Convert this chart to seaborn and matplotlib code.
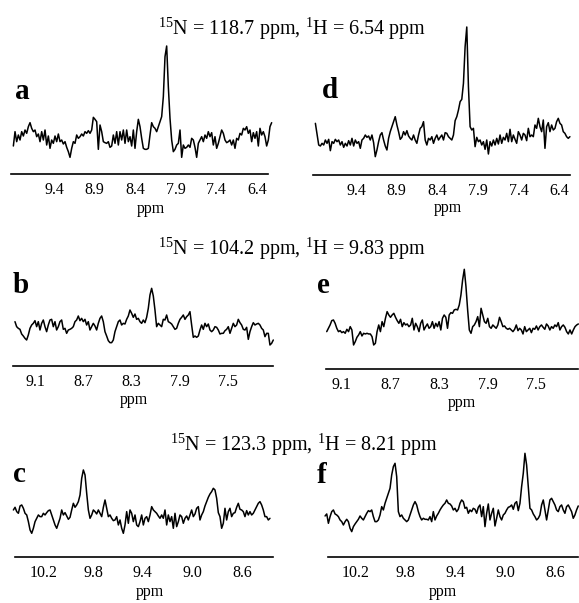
import numpy as np
import pandas as pd
import matplotlib
matplotlib.use("Agg")
import matplotlib.pyplot as plt
import seaborn as sns

sns.set_style("white")
plt.rcParams['font.family'] = ['Liberation Serif', 'DejaVu Serif']
plt.rcParams['mathtext.fontset'] = 'custom'
plt.rcParams['mathtext.rm'] = 'Liberation Serif'
plt.rcParams['mathtext.it'] = 'Liberation Serif:italic'
plt.rcParams['mathtext.bf'] = 'Liberation Serif:bold'
plt.rcParams['text.color'] = 'black'
plt.rcParams['axes.labelcolor'] = 'black'
plt.rcParams['xtick.color'] = 'black'

# ---------------- data (intensities, arbitrary units) ----------------
titles = [r"$^{15}$N = 118.7 ppm, $^{1}$H = 6.54 ppm",
          r"$^{15}$N = 104.2 ppm, $^{1}$H = 9.83 ppm",
          r"$^{15}$N = 123.3 ppm, $^{1}$H = 8.21 ppm"]
panel_letters = ["a", "d", "b", "e", "c", "f"]

ticks_ad = [9.4, 8.9, 8.4, 7.9, 7.4, 6.9]
ticklabels_ad = ["9.4", "8.9", "8.4", "7.9", "7.4", "6.4"]
ticks_be = [9.1, 8.7, 8.3, 7.9, 7.5]
ticklabels_be = ["9.1", "8.7", "8.3", "7.9", "7.5"]
ticks_cf = [10.2, 9.8, 9.4, 9.0, 8.6]
ticklabels_cf = ["10.2", "9.8", "9.4", "9.0", "8.6"]

# spectral window (first, last ppm) of each trace
ppm_a = (9.90, 6.72)
ppm_d = (9.90, 6.77)
ppm_b = (9.275, 7.117)
ppm_e = (9.223, 7.155)
ppm_c = (10.441, 8.377)
ppm_f = (10.449, 8.412)

int_a = [142, 185, 155, 175, 160, 185, 172, 190, 180, 200, 212, 195, 185, 190, 170, 178, 155, 185, 160, 190,
         145, 172, 135, 160, 150, 172, 155, 178, 155, 160, 148, 155, 138, 125, 108, 135, 155, 150, 175, 165,
         170, 178, 172, 185, 180, 188, 180, 190, 228, 222, 215, 132, 205, 185, 155, 152, 150, 155, 138, 142,
         175, 150, 185, 145, 185, 160, 190, 150, 190, 155, 170, 142, 190, 135, 185, 222, 200, 165, 135, 132,
         132, 135, 175, 212, 200, 195, 185, 200, 215, 230, 290, 410, 442, 320, 225, 160, 125, 132, 145, 150,
         190, 108, 145, 135, 138, 145, 138, 165, 160, 138, 108, 150, 160, 170, 155, 175, 165, 185, 170, 182,
         145, 170, 135, 150, 170, 190, 180, 160, 152, 155, 160, 145, 160, 135, 165, 160, 180, 175, 195, 190,
         200, 180, 190, 155, 182, 165, 185, 142, 195, 175, 185, 170, 142, 160, 200, 212]

int_d = [210, 178, 145, 142, 150, 145, 160, 150, 162, 128, 155, 150, 162, 155, 160, 145, 155, 138, 150, 142,
         158, 145, 165, 142, 160, 150, 155, 135, 160, 165, 175, 168, 172, 160, 175, 152, 110, 130, 155, 175,
         182, 160, 142, 130, 165, 185, 200, 215, 230, 205, 185, 162, 168, 185, 175, 188, 172, 165, 160, 175,
         160, 150, 175, 195, 200, 215, 160, 145, 165, 160, 170, 150, 165, 175, 160, 168, 175, 160, 182, 180,
         170, 165, 160, 175, 218, 230, 250, 275, 282, 330, 440, 499, 320, 200, 190, 195, 140, 168, 155, 160,
         145, 155, 132, 160, 118, 155, 142, 160, 145, 165, 148, 175, 150, 168, 160, 180, 155, 192, 155, 175,
         162, 150, 185, 175, 160, 180, 175, 158, 195, 170, 175, 170, 205, 195, 225, 200, 185, 220, 135, 200,
         212, 185, 205, 190, 195, 215, 225, 210, 205, 185, 180, 170, 165, 170]

int_b = [125, 110, 105, 102, 88, 82, 75, 70, 85, 105, 115, 120, 128, 110, 125, 100, 120, 130, 110, 95,
         115, 130, 132, 110, 125, 100, 110, 125, 130, 102, 105, 90, 100, 102, 105, 110, 125, 130, 142, 128,
         135, 125, 132, 115, 125, 100, 110, 120, 112, 100, 120, 135, 142, 125, 95, 82, 68, 62, 62, 70,
         95, 110, 125, 130, 115, 120, 118, 132, 142, 160, 150, 138, 148, 132, 135, 125, 120, 130, 122, 138,
         165, 205, 225, 202, 160, 110, 120, 115, 110, 132, 130, 145, 125, 122, 118, 110, 102, 105, 120, 132,
         138, 145, 132, 140, 145, 155, 115, 78, 82, 78, 82, 100, 115, 102, 120, 110, 118, 100, 95, 100,
         110, 108, 100, 88, 90, 90, 98, 102, 110, 90, 105, 120, 110, 115, 132, 122, 115, 102, 100, 108,
         72, 95, 110, 122, 115, 118, 120, 115, 105, 100, 80, 90, 90, 55, 60, 70]

int_e = [95, 105, 115, 128, 130, 120, 105, 95, 98, 92, 95, 90, 102, 95, 110, 100, 55, 65, 78, 85,
         95, 82, 90, 88, 90, 88, 88, 80, 55, 60, 95, 115, 95, 125, 110, 135, 155, 145, 138, 145,
         150, 138, 128, 120, 132, 110, 122, 115, 118, 110, 115, 135, 100, 120, 110, 95, 120, 130, 100, 110,
         118, 105, 110, 125, 105, 120, 110, 125, 100, 135, 145, 138, 105, 145, 152, 150, 160, 162, 160, 175,
         205, 250, 282, 230, 160, 100, 90, 110, 115, 125, 140, 110, 165, 145, 125, 120, 135, 110, 105, 115,
         110, 105, 115, 138, 125, 110, 112, 105, 102, 105, 100, 95, 102, 115, 98, 105, 100, 88, 110, 95,
         100, 105, 92, 105, 102, 112, 100, 110, 115, 108, 102, 118, 112, 100, 110, 105, 115, 110, 122, 100,
         110, 115, 108, 95, 88, 100, 88, 100, 110, 115, 118]

int_c = [130, 138, 125, 120, 142, 145, 135, 120, 115, 95, 70, 60, 75, 95, 105, 115, 110, 110, 120, 115,
         122, 128, 130, 115, 100, 85, 75, 90, 105, 130, 115, 122, 112, 102, 108, 130, 150, 138, 145, 155,
         175, 225, 250, 235, 180, 130, 105, 115, 130, 125, 118, 130, 120, 110, 138, 160, 135, 110, 115, 105,
         98, 100, 110, 85, 100, 75, 60, 85, 125, 90, 130, 120, 95, 115, 85, 80, 95, 115, 85, 105,
         110, 95, 115, 140, 130, 125, 120, 112, 105, 115, 105, 130, 85, 115, 95, 110, 75, 120, 80, 95,
         115, 110, 90, 105, 112, 100, 115, 130, 110, 118, 135, 140, 100, 115, 125, 142, 155, 168, 178, 185,
         195, 190, 165, 122, 110, 75, 90, 135, 100, 125, 135, 110, 120, 122, 138, 150, 132, 130, 125, 110,
         128, 115, 125, 115, 120, 130, 140, 150, 155, 145, 130, 110, 110, 100, 105]

int_f = [112, 118, 90, 110, 125, 130, 118, 115, 110, 100, 95, 85, 95, 102, 95, 75, 65, 80, 88, 95,
         102, 112, 105, 100, 110, 120, 128, 125, 130, 110, 95, 95, 100, 115, 140, 130, 150, 165, 180, 195,
         235, 260, 270, 230, 125, 110, 115, 105, 100, 95, 100, 115, 130, 145, 155, 145, 125, 110, 100, 105,
         102, 102, 100, 110, 95, 125, 100, 112, 120, 130, 138, 145, 150, 160, 150, 148, 142, 130, 135, 125,
         132, 150, 160, 155, 135, 138, 120, 130, 125, 135, 132, 120, 138, 145, 110, 140, 80, 120, 148, 100,
         120, 135, 82, 105, 130, 110, 100, 115, 120, 130, 138, 140, 145, 132, 150, 155, 128, 150, 200, 240,
         300, 265, 200, 135, 130, 118, 110, 100, 105, 115, 145, 160, 130, 100, 130, 160, 165, 155, 145, 130,
         125, 140, 145, 130, 120, 140, 145, 135, 125, 105, 115, 130, 142]

# ---------------- layout (figure pixels) ----------------
W, Hfig = 579, 603
# name: (x_left, x_right, y_axisline, height_px, xlim, ticks, ticklabels, data, ppm, intensity_baseline, ppm label center)
panels = {
    "a": (11, 268, 174, 136, (9.929, 6.765), ticks_ad, ticklabels_ad, int_a, ppm_a, 58, (151, 209)),
    "d": (312.7, 570, 175, 153, (9.933, 6.769), ticks_ad, ticklabels_ad, int_d, ppm_d, 55, (448, 208)),
    "b": (13.3, 272.7, 366, 88, (9.289, 7.122), ticks_be, ticklabels_be, int_b, ppm_b, -8, (134, 400)),
    "e": (326, 578, 369.3, 108, (9.229, 7.158), ticks_be, ticklabels_be, int_e, ppm_e, -18, (462, 403)),
    "c": (15, 272.7, 557.3, 100, (10.428, 8.355), ticks_cf, ticklabels_cf, int_c, ppm_c, -12, (150, 592)),
    "f": (328.3, 578, 557.3, 112, (10.423, 8.414), ticks_cf, ticklabels_cf, int_f, ppm_f, -12, (443, 592)),
}

letter_pos = {"a": (15, 99), "d": (322, 98), "b": (13, 293), "e": (317, 293), "c": (13, 482), "f": (317, 483)}
title_pos = [(292, 35), (292, 255), (304, 451)]

fig = plt.figure(figsize=(W / 100, Hfig / 100), dpi=100)
fig.patch.set_facecolor("white")

for name, (x0, x1, yb, h, xlim, ticks, tlabels, vals, ppm, base, lab) in panels.items():
    ax = fig.add_axes([x0 / W, 1 - yb / Hfig, (x1 - x0) / W, h / Hfig])
    df = pd.DataFrame({"ppm": np.linspace(ppm[0], ppm[1], len(vals)), "intensity": vals})
    sns.lineplot(data=df, x="ppm", y="intensity", ax=ax, color="black", linewidth=1.1,
                 estimator=None, errorbar=None, sort=False, clip_on=False)
    ax.set_xlim(*xlim)
    ax.set_ylim(base, base + 3 * h)
    for s in ["top", "left", "right"]:
        ax.spines[s].set_visible(False)
    ax.spines["bottom"].set_linewidth(1.2)
    ax.spines["bottom"].set_color("black")
    ax.set_yticks([])
    ax.set_ylabel("")
    ax.set_xticks(ticks)
    ax.set_xticklabels(tlabels, fontsize=11.5, color="black")
    ax.tick_params(axis="x", direction="out", length=4, width=1.1, pad=1.5, colors="black")
    ax.set_facecolor("none")
    ax.set_xlabel("ppm", fontsize=11.5, va="center", color="black")
    ax.xaxis.set_label_coords((lab[0] - x0) / (x1 - x0), -(lab[1] - yb) / h)
    lx, ly = letter_pos[name]
    fig.text(lx / W, 1 - ly / Hfig, name, fontsize=21, fontweight="bold", ha="left", va="baseline",
             color="black")

for t, (cx, by) in zip(titles, title_pos):
    fig.text(cx / W, 1 - by / Hfig, t, fontsize=14.5, ha="center", va="baseline", color="black")

fig.savefig("out.png", dpi=100, facecolor="white")
